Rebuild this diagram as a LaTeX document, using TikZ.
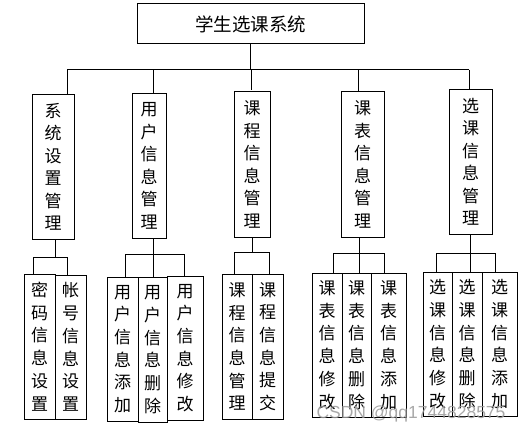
\documentclass[tikz,border=0pt]{standalone}
\usepackage{fontspec}
\newfontfamily\cjk{Noto Sans CJK SC}
\newfontfamily\wmfont{Liberation Sans}
\begin{document}
\begin{tikzpicture}[x=1pt,y=-1pt,
  line/.style={line width=1pt},
  box/.style={draw, line width=1pt, inner sep=0pt, align=center, font=\cjk\fontsize{17}{22.5}\selectfont},
  leaf/.style={box, font=\cjk\fontsize{17}{22.7}\selectfont}]
\useasboundingbox (0,0) rectangle (524,433);
% root
\node[draw, line width=1pt, minimum width=227pt, minimum height=40pt, inner sep=0pt, font=\cjk\fontsize{18.5}{20}\selectfont] (top) at (250.5,24) {学生选课系统};
% level 2
\node[box, minimum width=42pt, minimum height=144pt] (s1) at (53,167) {系\\统\\设\\置\\管\\理};
\node[box, minimum width=34pt, minimum height=144pt] (s2) at (149,166) {用\\户\\信\\息\\管\\理};
\node[box, minimum width=36pt, minimum height=145pt] (s3) at (252,164.5) {课\\程\\信\\息\\管\\理};
\node[box, minimum width=43pt, minimum height=145pt] (s4) at (362.5,164.5) {课\\表\\信\\息\\管\\理};
\node[box, minimum width=43pt, minimum height=144pt] (s5) at (470.5,162) {选\\课\\信\\息\\管\\理};
% level 3
\node[leaf, minimum width=31pt, minimum height=145pt] (a) at (39.5,346.5) {密\\码\\信\\息\\设\\置};
\node[leaf, minimum width=31pt, minimum height=144pt] (b) at (70.5,347) {帐\\号\\信\\息\\设\\置};
\node[leaf, minimum width=31pt, minimum height=144pt] (c) at (122.5,349) {用\\户\\信\\息\\添\\加};
\node[leaf, minimum width=29pt, minimum height=145pt] (d) at (152.5,349.5) {用\\户\\信\\息\\删\\除};
\node[leaf, minimum width=36pt, minimum height=144pt] (e) at (185,348) {用\\户\\信\\息\\修\\改};
\node[leaf, minimum width=30pt, minimum height=145pt] (f) at (237,346.5) {课\\程\\信\\息\\管\\理};
\node[leaf, minimum width=31pt, minimum height=145pt] (g) at (267.5,346.5) {课\\程\\信\\息\\提\\交};
\node[leaf, minimum width=30pt, minimum height=144pt] (h) at (327,345) {课\\表\\信\\息\\修\\改};
\node[leaf, minimum width=29pt, minimum height=144pt] (i) at (356.5,345) {课\\表\\信\\息\\删\\除};
\node[leaf, minimum width=35pt, minimum height=144pt] (j) at (388.5,345) {课\\表\\信\\息\\添\\加};
\node[leaf, minimum width=29pt, minimum height=144pt] (k) at (437.5,344) {选\\课\\信\\息\\修\\改};
\node[leaf, minimum width=30pt, minimum height=144pt] (l) at (467,344) {选\\课\\信\\息\\删\\除};
\node[leaf, minimum width=35pt, minimum height=144pt] (m) at (499.5,344) {选\\课\\信\\息\\添\\加};
% bus coordinates
\coordinate (b1) at (67,70);
\coordinate (b2) at (153,70);
\coordinate (b3) at (251,70);
\coordinate (b4) at (358,70);
\coordinate (b5) at (469,70);
\draw[line] (top.south) -- (top.south |- b1);
\draw[line] (b1) -- (b5);
\draw[line] (b1) -- (b1 |- s1.north);
\draw[line] (b2) -- (b2 |- s2.north);
\draw[line] (b3) -- (251,90);
\draw[line] (b4) -- (b4 |- s4.north);
\draw[line] (b5) -- (b5 |- s5.north);
% group 1
\coordinate (v1) at (55,257);
\coordinate (h1a) at (33,257);
\coordinate (h1b) at (67,257);
\draw[line] (v1 |- s1.south) -- (v1);
\draw[line] (h1a) -- (h1b);
\draw[line] (h1a) -- (h1a |- a.north);
\draw[line] (h1b) -- (h1b |- b.north);
% group 2
\coordinate (v2) at (153,254);
\coordinate (h2a) at (125,254);
\coordinate (h2c) at (184,254);
\draw[line] (v2 |- s2.south) -- (v2);
\draw[line] (h2a) -- (h2c);
\draw[line] (h2a) -- (h2a |- c.north);
\draw[line] (v2) -- (v2 |- d.north);
\draw[line] (h2c) -- (h2c |- e.north);
% group 3
\coordinate (v3) at (252,252);
\coordinate (h3a) at (234,252);
\coordinate (h3b) at (269,252);
\draw[line] (v3 |- s3.south) -- (v3);
\draw[line] (h3a) -- (h3b);
\draw[line] (h3a) -- (h3a |- f.north);
\draw[line] (h3b) -- (h3b |- g.north);
% group 4
\coordinate (v4) at (359,253);
\coordinate (h4a) at (333,253);
\coordinate (h4c) at (384,253);
\draw[line] (v4 |- s4.south) -- (v4);
\draw[line] (h4a) -- (h4c);
\draw[line] (h4a) -- (h4a |- h.north);
\draw[line] (v4) -- (v4 |- i.north);
\draw[line] (h4c) -- (h4c |- j.north);
% group 5
\coordinate (v5) at (470,253);
\coordinate (h5a) at (436,253);
\coordinate (h5c) at (495,253);
\draw[line] (v5 |- s5.south) -- (v5);
\draw[line] (h5a) -- (h5c);
\draw[line] (h5a) -- (h5a |- k.north);
\draw[line] (v5) -- (v5 |- l.north);
\draw[line] (h5c) -- (h5c |- m.north);
% watermark
\node[text=black!40, opacity=0.85, font=\wmfont\fontsize{17.5}{20}\selectfont, inner sep=0pt] (wm) at (411,414) {CSDN @qq1744828575};
\end{tikzpicture}
\end{document}
